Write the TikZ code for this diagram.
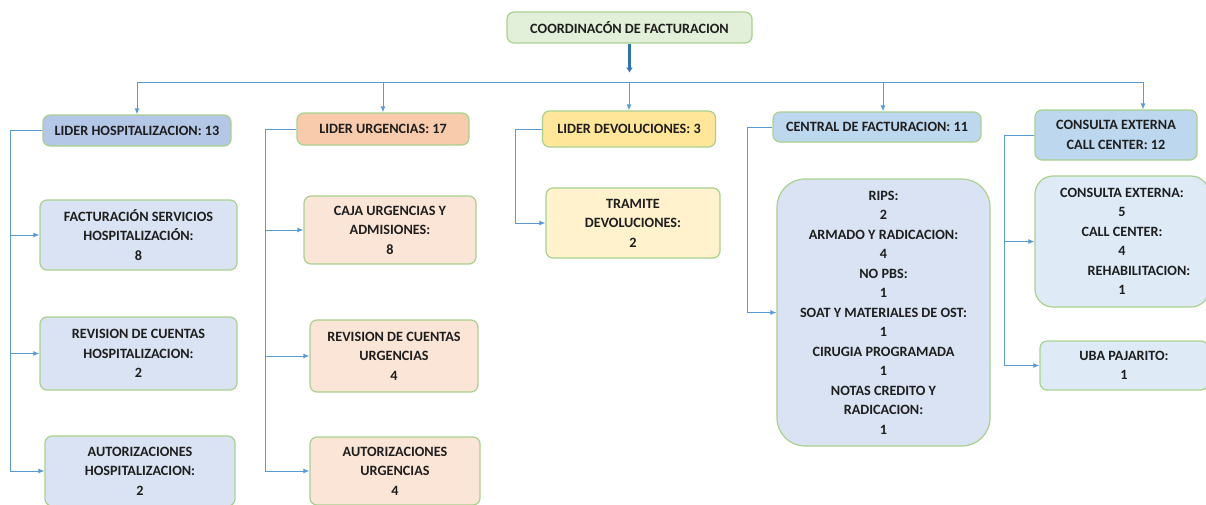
\documentclass[tikz,border=0pt]{standalone}
\usepackage{fontspec}
\setmainfont{Carlito}
\usetikzlibrary{positioning,arrows.meta}

\definecolor{lineblue}{HTML}{5B9BD5}
\definecolor{darkblue}{HTML}{2E75B6}
\definecolor{boxgreen}{HTML}{A9D18E}
\definecolor{topfill}{HTML}{E2EFD9}
\definecolor{hospdark}{HTML}{B4C7E7}
\definecolor{hosplight}{HTML}{DAE3F3}
\definecolor{urgdark}{HTML}{F8CBAD}
\definecolor{urglight}{HTML}{FBE5D6}
\definecolor{devdark}{HTML}{FFE699}
\definecolor{devlight}{HTML}{FFF2CC}
\definecolor{cendark}{HTML}{BDD7EE}
\definecolor{cenlight}{HTML}{DEEBF7}
\definecolor{txt}{HTML}{1E1E1E}

\begin{document}
\begin{tikzpicture}[
  x=1pt, y=-1pt,
  box/.style={draw=boxgreen, line width=1.2pt, rounded corners=7pt, align=center,
    inner sep=2pt, text=txt, font=\fontsize{14.2}{19.5}\selectfont\bfseries},
  link/.style={draw=lineblue, line width=1pt, -{Latex[length=6pt,width=5pt]}},
  bigarrow/.style={draw=darkblue, line width=3pt, -{Latex[length=5pt,width=7pt]}}
]
\useasboundingbox (0,0) rectangle (1206,504);

% direccion
\node[box, fill=topfill, minimum width=245pt, minimum height=31pt] (coord) at (629.5,27.5) {COORDINACÓN DE FACTURACION};
\coordinate (bus) at (629,82);

% lideres
\node[box, fill=hospdark, minimum width=188pt, minimum height=31pt] (hosp) at (137,130.5) {LIDER HOSPITALIZACION: 13};
\node[box, fill=urgdark, minimum width=172pt, minimum height=32pt] (urg) at (383,129) {LIDER URGENCIAS: 17};
\node[box, fill=devdark, minimum width=173pt, minimum height=36pt] (dev) at (629,129) {LIDER DEVOLUCIONES: 3};
\node[box, fill=cendark, minimum width=208pt, minimum height=30pt] (cen) at (877,127) {CENTRAL DE FACTURACION: 11};
\node[box, fill=cendark, minimum width=162pt, minimum height=50pt] (ext) at (1116,135) {CONSULTA EXTERNA\\CALL CENTER: 12};
\coordinate (hospin) at (hosp.north);
\coordinate (urgin) at (urg.north);
\coordinate (devin) at (dev.north);
\coordinate (cenin) at ([xshift=6pt]cen.north);
\coordinate (extin) at ([xshift=27pt]ext.north);

% hospitalizacion
\node[box, fill=hosplight, minimum width=197pt, minimum height=70pt] (hospfac) at (138.5,235) {FACTURACIÓN SERVICIOS\\HOSPITALIZACIÓN:\\8};
\node[box, fill=hosplight, minimum width=197pt, minimum height=73pt] (hosprev) at (138.5,353.5) {REVISION DE CUENTAS\\HOSPITALIZACION:\\2};
\node[box, fill=hosplight, minimum width=190pt, minimum height=70pt] (hospaut) at (140,471) {AUTORIZACIONES\\HOSPITALIZACION:\\2};

% urgencias
\node[box, fill=urglight, minimum width=172pt, minimum height=68pt] (urgcaja) at (390,230) {CAJA URGENCIAS Y\\ADMISIONES:\\8};
\node[box, fill=urglight, minimum width=168pt, minimum height=72pt] (urgrev) at (394,356) {REVISION DE CUENTAS\\URGENCIAS\\4};
\node[box, fill=urglight, minimum width=170pt, minimum height=68pt] (urgaut) at (395,471) {AUTORIZACIONES\\URGENCIAS\\4};

% devoluciones
\node[box, fill=devlight, minimum width=174pt, minimum height=70pt] (devtram) at (633,223) {TRAMITE\\DEVOLUCIONES:\\2};

% central
\node[box, fill=hosplight, rounded corners=28pt, minimum width=213pt, minimum height=267pt] (cenall) at (883.5,312.5)
  {RIPS:\\2\\ARMADO Y RADICACION:\\4\\NO PBS:\\1\\SOAT Y MATERIALES DE OST:\\1\\CIRUGIA PROGRAMADA\\1\\NOTAS CREDITO Y\\RADICACION:\\1};

% consulta externa
\node[box, fill=cenlight, rounded corners=18pt, minimum width=174pt, minimum height=131pt] (extcon) at (1122,241.5)
  {CONSULTA EXTERNA:\\5\\CALL CENTER:\\4\\\hspace*{34pt}REHABILITACION:\\1};
\node[box, fill=cenlight, minimum width=168pt, minimum height=49pt] (extuba) at (1124,365.5) {UBA PAJARITO:\\1};

% conexiones
\draw[bigarrow] (coord.south) -- ++(0,29);
\draw[draw=lineblue, line width=1pt] (bus -| hospin) -- (bus -| extin);
\foreach \n in {hospin,urgin,devin,cenin,extin}
  \draw[link] (bus -| \n) -- (\n);

\foreach \n in {hospfac,hosprev,hospaut}
  \draw[link] (hosp.west) -- ++(-32,0) |- (\n.west);
\foreach \n in {urgcaja,urgrev,urgaut}
  \draw[link] (urg.west) -- ++(-31,0) |- (\n.west);
\draw[link] (dev.west) -- ++(-26,0) |- (devtram.west);
\draw[link] (cen.west) -- ++(-25,0) |- (cenall.west);
\foreach \n in {extcon,extuba}
  \draw[link] (ext.west) -- ++(-30,0) |- (\n.west);
\end{tikzpicture}
\end{document}
